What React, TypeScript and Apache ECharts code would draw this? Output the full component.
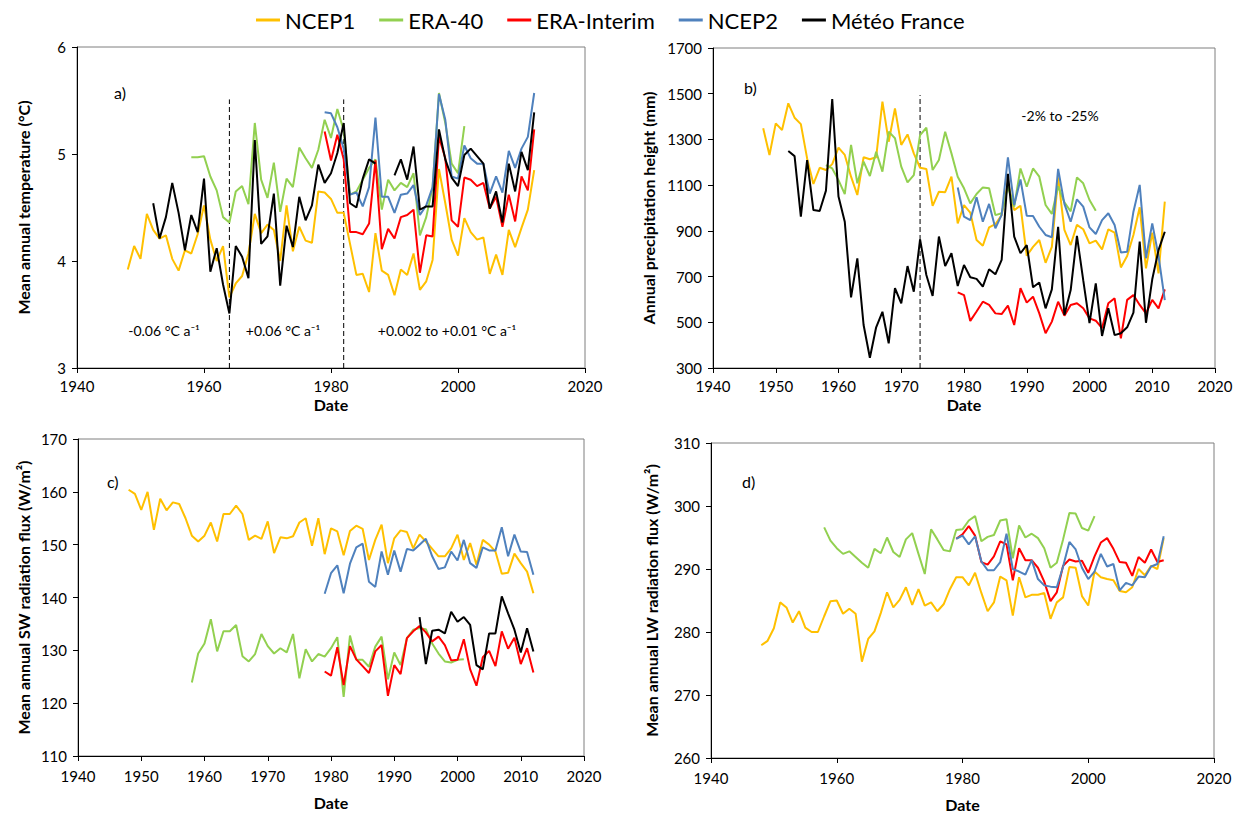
import React, { useEffect, useRef } from "react";
import * as echarts from "echarts";

const seriesNames = ["NCEP1", "ERA-40", "ERA-Interim", "NCEP2", "Météo France"];
const seriesColors = ["#FFC000", "#92D050", "#FF0000", "#4F81BD", "#000000"];

// first year of each record
const startNCEP1 = 1948;
const startERA40 = 1958;
const startERAI = 1979;
const startNCEP2 = 1979;
const startMF_temp = 1952;
const startMF_prec = 1952;
const startMF_sw = 1994;

// a) Mean annual temperature (°C)
const tempNCEP1 = [3.92, 4.14, 4.02, 4.44, 4.29, 4.21, 4.24, 4.02, 3.91, 4.10, 4.07, 4.25, 4.52, 4.20, 4.00, 4.14, 3.66, 3.79, 3.86, 4.07, 4.44, 4.26, 4.34, 4.29, 4.00, 4.52, 4.09, 4.32, 4.19, 4.17, 4.65, 4.64, 4.58, 4.45, 4.45, 4.16, 3.87, 3.88, 3.71, 4.26, 3.91, 3.87, 3.68, 3.92, 3.87, 4.07, 3.73, 3.81, 4.01, 4.86, 4.54, 4.20, 4.05, 4.40, 4.27, 4.20, 4.22, 3.88, 4.06, 3.87, 4.29, 4.13, 4.31, 4.48, 4.85];
const tempERA40 = [4.97, 4.97, 4.98, 4.79, 4.66, 4.41, 4.36, 4.65, 4.70, 4.53, 5.29, 4.76, 4.59, 4.92, 4.46, 4.77, 4.69, 5.06, 4.96, 4.87, 5.04, 5.32, 5.15, 5.42, 5.22, 4.62, 4.65, 4.76, 4.87, 4.95, 4.48, 4.76, 4.66, 4.73, 4.69, 4.82, 4.24, 4.41, 4.69, 5.57, 5.29, 4.91, 4.82, 5.26];
const tempERAI = [5.21, 4.94, 5.18, 4.95, 4.27, 4.27, 4.25, 4.35, 4.94, 4.11, 4.30, 4.21, 4.41, 4.43, 4.48, 3.89, 4.24, 4.23, 5.16, 4.96, 4.38, 4.32, 4.78, 4.76, 4.70, 4.73, 4.49, 4.60, 4.32, 4.62, 4.37, 4.79, 4.66, 5.23];
const tempNCEP2 = [5.39, 5.38, 5.25, 5.05, 4.62, 4.64, 4.51, 4.69, 5.34, 4.60, 4.60, 4.45, 4.62, 4.63, 4.71, 4.43, 4.52, 4.69, 5.56, 5.32, 4.79, 4.77, 5.08, 4.96, 4.91, 4.91, 4.63, 4.79, 4.64, 5.03, 4.87, 5.05, 5.16, 5.57];
const tempMF = [4.54, 4.21, 4.41, 4.73, 4.45, 4.10, 4.43, 4.27, 4.77, 3.90, 4.12, 3.78, 3.51, 4.14, 4.04, 3.84, 5.13, 4.16, 4.23, 4.63, 3.77, 4.33, 4.13, 4.60, 4.38, 4.52, 4.90, 4.73, 4.82, 5.01, 5.29, 4.54, 4.50, 4.77, 4.95, 4.91, null, null, 4.80, 4.95, 4.76, 5.07, 4.48, 4.51, 4.51, 5.23, 4.95, 4.78, 4.70, 4.99, 5.05, 4.98, 4.91, 4.49, 4.65, 4.36, 4.91, 4.65, 5.02, 4.85, 5.39];

// b) Annual precipitation height (mm)
const precNCEP1 = [1349, 1232, 1370, 1341, 1458, 1395, 1367, 1217, 1105, 1176, 1166, 1192, 1264, 1232, 1137, 1057, 1222, 1213, 1222, 1465, 1290, 1436, 1276, 1322, 1239, 1176, 1171, 1009, 1071, 1069, 1137, 933, 1013, 980, 860, 835, 915, 929, 969, 1111, 991, 1010, 791, 830, 860, 760, 830, 1134, 904, 838, 926, 907, 845, 857, 819, 907, 892, 740, 790, 882, 1003, 736, 892, 714, 1028];
const precERA40 = [1188, 1173, 1122, 1061, 1276, 1108, 1203, 1140, 1246, 1159, 1334, 1305, 1181, 1112, 1144, 1319, 1351, 1166, 1210, 1334, 1239, 1137, 1086, 1020, 1061, 1090, 1086, 969, 977, 1093, 1006, 1173, 1093, 1173, 1137, 1013, 974, 1095, 1025, 985, 1134, 1108, 1035, 988];
const precERAI = [631, 619, 506, 547, 590, 576, 539, 536, 573, 488, 649, 586, 612, 539, 452, 503, 590, 529, 576, 583, 561, 517, 507, 474, 583, 605, 430, 598, 619, 576, 539, 598, 561, 644];
const precNCEP2 = [1090, 962, 947, 1047, 940, 1018, 911, 970, 1222, 1013, 1125, 966, 965, 918, 882, 872, 1171, 1018, 940, 1038, 1006, 915, 886, 947, 977, 926, 805, 809, 984, 1101, 780, 933, 790, 597];
const precMF = [1249, 1227, 962, 1210, 991, 987, 1076, 1477, 1050, 940, 609, 780, 488, 345, 478, 546, 408, 649, 583, 746, 634, 863, 707, 615, 875, 746, 802, 659, 751, 697, 690, 656, 732, 710, 773, 1149, 875, 802, 838, 653, 674, 561, 644, 918, 532, 641, 878, 684, 496, 670, 440, 561, 444, 452, 478, 542, 853, 498, 688, 816, 896];

// c) Mean annual SW radiation flux (W/m²)
const swNCEP1 = [160.4, 159.6, 156.6, 160.0, 152.8, 158.7, 156.5, 158.0, 157.7, 155.0, 151.7, 150.6, 151.7, 154.2, 150.6, 155.8, 155.8, 157.4, 155.8, 150.9, 151.7, 151.1, 154.4, 148.4, 151.4, 151.2, 151.6, 154.2, 155.0, 149.8, 155.0, 148.2, 153.1, 152.5, 148.0, 152.6, 153.6, 153.0, 147.1, 150.9, 153.8, 146.5, 151.2, 152.7, 152.4, 149.3, 151.9, 150.6, 149.2, 147.8, 147.8, 149.3, 151.9, 147.1, 150.3, 146.2, 150.9, 150.0, 148.7, 144.5, 144.7, 148.3, 146.5, 144.9, 140.8];
const swERA40 = [123.9, 129.4, 131.3, 135.9, 129.8, 133.6, 133.6, 134.8, 128.9, 127.9, 129.3, 133.1, 130.8, 129.4, 130.4, 129.6, 133.1, 124.7, 130.2, 127.9, 129.3, 128.8, 130.4, 132.5, 121.2, 132.8, 128.2, 128.2, 126.9, 130.7, 132.6, 124.5, 129.6, 127.2, 132.3, 133.9, 134.2, 134.0, 131.3, 129.4, 127.9, 127.7, 128.2, 128.3];
const swERAI = [126.0, 125.2, 130.6, 123.4, 130.8, 128.3, 127.0, 125.7, 129.8, 131.0, 121.4, 127.2, 125.5, 132.3, 133.6, 134.6, 133.4, 131.7, 132.6, 131.0, 128.1, 128.2, 132.1, 126.4, 123.3, 128.7, 129.9, 127.0, 133.6, 130.3, 132.4, 127.4, 130.4, 125.8];
const swNCEP2 = [140.7, 144.6, 146.1, 140.8, 146.4, 149.5, 150.2, 143.0, 142.0, 148.7, 144.3, 148.9, 144.9, 149.2, 148.9, 150.0, 151.1, 147.8, 145.4, 145.7, 148.7, 147.0, 150.9, 146.5, 145.6, 149.5, 148.9, 148.9, 153.3, 147.8, 151.9, 148.7, 148.6, 144.3];
const swMF = [136.3, 127.4, 133.7, 133.9, 133.2, 137.3, 135.4, 136.3, 134.8, 127.2, 126.4, 133.2, 133.2, 140.2, 137.0, 133.9, 129.6, 134.2, 129.8];

// d) Mean annual LW radiation flux (W/m²)
const lwNCEP1 = [277.9, 278.6, 280.6, 284.7, 283.9, 281.5, 283.3, 280.7, 280.0, 280.0, 282.5, 284.9, 285.0, 282.9, 283.7, 282.9, 275.3, 278.9, 280.1, 283.0, 286.3, 283.9, 285.1, 287.1, 284.3, 286.8, 284.2, 284.7, 283.3, 284.4, 286.8, 288.7, 288.7, 287.4, 289.4, 286.2, 283.3, 284.7, 288.8, 288.2, 282.6, 288.7, 285.5, 285.9, 285.9, 286.2, 282.1, 284.7, 285.5, 290.3, 290.2, 285.7, 284.2, 289.6, 288.7, 288.4, 288.2, 286.5, 286.3, 287.1, 290.0, 289.0, 290.5, 290.0, 294.9];
const lwERA40 = [296.6, 294.5, 293.3, 292.4, 292.8, 291.9, 291.0, 290.2, 293.2, 292.5, 295.0, 292.7, 291.9, 294.7, 295.7, 292.4, 289.2, 296.3, 294.7, 293.0, 292.8, 296.2, 296.3, 297.7, 298.4, 294.4, 295.1, 295.4, 297.7, 297.9, 291.7, 296.9, 295.0, 295.6, 294.9, 293.3, 290.2, 291.0, 294.7, 298.9, 298.8, 296.5, 296.1, 298.4];
const lwERAI = [294.8, 295.5, 296.8, 295.3, 291.1, 290.7, 292.0, 294.4, 293.9, 288.2, 293.3, 291.4, 291.4, 290.2, 288.0, 284.9, 286.3, 290.5, 291.5, 291.2, 291.3, 289.4, 292.0, 294.2, 294.9, 293.2, 291.1, 291.0, 288.9, 291.9, 291.0, 293.1, 291.1, 291.4];
const lwNCEP2 = [294.8, 295.3, 293.9, 295.2, 291.2, 289.8, 289.8, 291.1, 295.6, 290.0, 289.6, 289.1, 291.4, 288.4, 287.4, 287.2, 287.1, 290.4, 294.3, 293.1, 290.2, 288.4, 289.6, 292.4, 290.4, 290.8, 286.6, 287.8, 287.4, 288.8, 288.7, 290.4, 290.8, 295.2];

// trend-break years (dashed lines)
const breaksTemp = [1964, 1982];
const breakTempTop = 5.51;
const breaksPrec = [1973];
const breakPrecTop = 1494;

const panelLetters = ["a)", "b)", "c)", "d)"];
const tempTrendLabels = ["-0.06 °C a⁻¹", "+0.06 °C a⁻¹", "+0.002 to +0.01 °C a⁻¹"];
const precTrendLabel = "-2% to -25%";

const yTitles = [
  "Mean annual temperature (°C)",
  "Annual precipitation height (mm)",
  "Mean annual SW radiation flux (W/m²)",
  "Mean annual LW radiation flux (W/m²)",
];

const FONT = "Lato, 'Open Sans', sans-serif";

function pairs(start: number, vals: (number | null)[]) {
  return vals.map((v, i) => [start + i, v === null ? "-" : v]);
}

export default function App() {
  const ref = useRef<HTMLDivElement>(null);
  useEffect(() => {
    document.body.style.margin = "0";
    if (!ref.current) return;
    const chart = echarts.init(ref.current, null, { renderer: "svg" });

    const grids = [
      { left: 77, top: 47, width: 508, height: 321 },
      { left: 713, top: 48, width: 502, height: 320 },
      { left: 78, top: 439, width: 506, height: 317 },
      { left: 711, top: 443, width: 503, height: 315 },
    ];

    const xIntervals = [20, 10, 10, 20];
    const xLabelMargins = [10, 10, 12, 12];
    const xNameGaps = [28, 28, 38, 38];
    const yRanges = [
      [3, 6, 1],
      [300, 1700, 200],
      [110, 170, 10],
      [260, 310, 10],
    ];
    const yNameGaps = [46, 57, 47, 52];

    const plain = (v: number) => String(v);

    const xAxes = grids.map((_, i) => ({
      gridIndex: i,
      type: "value",
      min: 1940,
      max: 2020,
      interval: xIntervals[i],
      axisLine: { show: true, onZero: false, lineStyle: { color: "#000", width: 1 } },
      axisTick: { show: true, length: 5, lineStyle: { color: "#000" } },
      splitLine: { show: false },
      axisLabel: { fontSize: 15, color: "#000", margin: xLabelMargins[i], fontFamily: FONT, formatter: plain },
      name: "Date",
      nameLocation: "middle",
      nameGap: xNameGaps[i],
      nameTextStyle: { fontSize: 16, fontWeight: "bold", color: "#000", fontFamily: FONT },
    }));

    const yAxes = grids.map((_, i) => ({
      gridIndex: i,
      type: "value",
      min: yRanges[i][0],
      max: yRanges[i][1],
      interval: yRanges[i][2],
      axisLine: { show: true, onZero: false, lineStyle: { color: "#000", width: 1 } },
      axisTick: { show: true, length: 5, lineStyle: { color: "#000" } },
      splitLine: { show: false },
      axisLabel: { fontSize: 15, color: "#000", margin: 11, fontFamily: FONT, formatter: plain },
      name: yTitles[i],
      nameLocation: "middle",
      nameRotate: 90,
      nameGap: yNameGaps[i],
      nameTextStyle: { fontSize: 16, fontWeight: "bold", color: "#000", fontFamily: FONT },
    }));

    const panelData: ([number, (number | null)[]] | null)[][] = [
      [[startNCEP1, tempNCEP1], [startERA40, tempERA40], [startERAI, tempERAI], [startNCEP2, tempNCEP2], [startMF_temp, tempMF]],
      [[startNCEP1, precNCEP1], [startERA40, precERA40], [startERAI, precERAI], [startNCEP2, precNCEP2], [startMF_prec, precMF]],
      [[startNCEP1, swNCEP1], [startERA40, swERA40], [startERAI, swERAI], [startNCEP2, swNCEP2], [startMF_sw, swMF]],
      [[startNCEP1, lwNCEP1], [startERA40, lwERA40], [startERAI, lwERAI], [startNCEP2, lwNCEP2], null],
    ];

    const series: any[] = [];
    panelData.forEach((panel, p) => {
      panel.forEach((entry, s) => {
        if (!entry) return;
        series.push({
          type: "line",
          name: seriesNames[s],
          xAxisIndex: p,
          yAxisIndex: p,
          data: pairs(entry[0], entry[1]),
          showSymbol: false,
          symbol: "none",
          connectNulls: false,
          color: seriesColors[s],
          lineStyle: { color: seriesColors[s], width: 2 },
          z: 2 + s,
          silent: true,
        });
      });
    });

    const dashed = (axis: number, year: number, lo: number, hi: number) => ({
      type: "line",
      name: "break",
      xAxisIndex: axis,
      yAxisIndex: axis,
      data: [
        [year, lo],
        [year, hi],
      ],
      showSymbol: false,
      symbol: "none",
      lineStyle: { color: "#000", width: 1, type: [5, 3] },
      z: 1,
      silent: true,
    });
    breaksTemp.forEach((y) => series.push(dashed(0, y, 3, breakTempTop)));
    breaksPrec.forEach((y) => series.push(dashed(1, y, 300, breakPrecTop)));

    const txt = (text: string, x: number, y: number, size: number, align = "left") => ({
      type: "text",
      x,
      y,
      silent: true,
      style: {
        text,
        fill: "#000",
        font: `${size}px ${FONT}`,
        fontSize: size,
        fontFamily: FONT,
        textAlign: align,
        textVerticalAlign: "middle",
      },
    });

    const graphic = [
      txt(panelLetters[0], 114, 92, 16),
      txt(panelLetters[1], 744, 87, 16),
      txt(panelLetters[2], 107, 481, 16),
      txt(panelLetters[3], 742, 481, 16),
      txt(tempTrendLabels[0], 164, 330, 14, "center"),
      txt(tempTrendLabels[1], 283, 330, 14, "center"),
      txt(tempTrendLabels[2], 447, 330, 14, "center"),
      txt(precTrendLabel, 1060, 115, 14, "center"),
    ];

    chart.setOption({
      animation: false,
      textStyle: { fontFamily: FONT },
      legend: {
        data: seriesNames,
        left: 251,
        top: 4,
        icon: "rect",
        itemWidth: 24,
        itemHeight: 3,
        itemGap: 24,
        selectedMode: false,
        textStyle: { fontSize: 22, color: "#000", fontFamily: FONT },
      },
      grid: grids.map((g) => ({ ...g, show: true, borderColor: "#7f7f7f", borderWidth: 1, backgroundColor: "transparent" })),
      xAxis: xAxes,
      yAxis: yAxes,
      series,
      graphic,
    });

    return () => chart.dispose();
  }, []);

  return <div ref={ref} style={{ width: 1244, height: 816 }} />;
}
